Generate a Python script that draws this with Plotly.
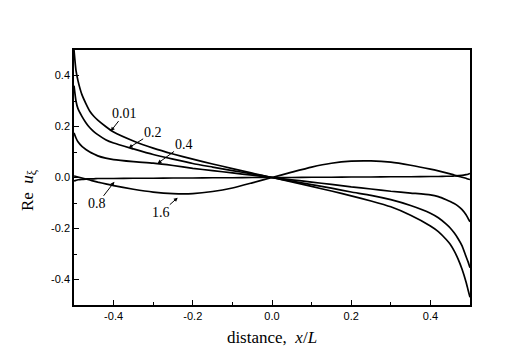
import plotly.graph_objects as go

# distance x/L (shared by all curves)
x_pos = [-0.5, -0.495, -0.49, -0.48, -0.47, -0.46, -0.45, -0.44, -0.42, -0.4, -0.35, -0.3, -0.25, -0.2, -0.15, -0.1, -0.05, 0.0,
         0.05, 0.1, 0.15, 0.2, 0.25, 0.3, 0.35, 0.4, 0.42, 0.44, 0.45, 0.46, 0.47, 0.48, 0.49, 0.495, 0.5]

# Re u_xi for each parameter value
re_u_001 = [0.5, 0.42, 0.38, 0.325, 0.29, 0.26, 0.24, 0.225, 0.2, 0.178, 0.143, 0.115, 0.092, 0.072, 0.053, 0.035, 0.017, 0.0,
            -0.017, -0.035, -0.053, -0.072, -0.092, -0.115, -0.148, -0.19, -0.212, -0.243, -0.262, -0.288, -0.32, -0.36, -0.41, -0.44, -0.47]
re_u_02 = [0.36, 0.30, 0.27, 0.24, 0.215, 0.195, 0.18, 0.168, 0.148, 0.135, 0.112, 0.09, 0.072, 0.055, 0.041, 0.027, 0.014, 0.0,
           -0.014, -0.028, -0.042, -0.057, -0.07, -0.087, -0.11, -0.14, -0.158, -0.183, -0.198, -0.217, -0.24, -0.268, -0.31, -0.33, -0.354]
re_u_04 = [0.175, 0.155, 0.14, 0.122, 0.11, 0.1, 0.092, 0.085, 0.076, 0.07, 0.062, 0.056, 0.047, 0.036, 0.027, 0.018, 0.009, 0.0,
           -0.009, -0.018, -0.027, -0.037, -0.045, -0.054, -0.061, -0.068, -0.075, -0.087, -0.094, -0.102, -0.112, -0.126, -0.146, -0.16, -0.174]
re_u_08 = [-0.013, -0.011, -0.009, -0.007, -0.006, -0.005, -0.005, -0.004, -0.004, -0.004, -0.003, -0.003, -0.002, -0.002, -0.001, -0.001, 0.0, 0.0,
           0.0, 0.001, 0.001, 0.002, 0.002, 0.003, 0.003, 0.004, 0.004, 0.005, 0.005, 0.006, 0.007, 0.008, 0.011, 0.013, 0.016]
re_u_16 = [0.006, 0.004, 0.002, -0.002, -0.006, -0.01, -0.014, -0.018, -0.025, -0.032, -0.046, -0.057, -0.063, -0.063, -0.055, -0.041, -0.021, 0.0,
           0.021, 0.041, 0.056, 0.064, 0.065, 0.06, 0.048, 0.033, 0.026, 0.018, 0.014, 0.01, 0.005, 0.001, -0.003, -0.006, -0.008]

curve_labels = ["0.01", "0.2", "0.4", "0.8", "1.6"]
curves = [re_u_001, re_u_02, re_u_04, re_u_08, re_u_16]

# where each label's arrow points (data coords)
arrow_x = [-0.407, -0.362, -0.289, -0.398, -0.238]
arrow_y = [0.182, 0.116, 0.055, -0.017, -0.079]

tick_vals = [-0.4, -0.2, 0.0, 0.2, 0.4]
tick_text = ["-0.4", "-0.2", "0.0", "0.2", "0.4"]

fig = go.Figure()

for lab, ys in zip(curve_labels, curves):
    fig.add_trace(go.Scatter(
        x=x_pos, y=ys, mode="lines", name=lab,
        line=dict(color="black", width=1.7, shape="spline", smoothing=0.5),
        showlegend=False,
    ))

# label offsets (pixels, text centre relative to arrow tip)
offsets = [(14, -18), (24, -15), (26, -19), (-17, 22), (-17, 15)]
for lab, ax_, ay_, (dx, dy) in zip(curve_labels, arrow_x, arrow_y, offsets):
    fig.add_annotation(
        x=ax_, y=ay_, text=lab, showarrow=True,
        ax=dx, ay=dy, arrowhead=2, arrowsize=0.8, arrowwidth=1, arrowcolor="black",
        standoff=0, borderpad=0,
        font=dict(family="Liberation Serif", size=14, color="black"),
    )

# y axis title, sits a bit below the plot centre in the original
fig.add_annotation(
    xref="paper", yref="y", x=-0.114, y=-0.05, showarrow=False,
    text="Re\u00a0\u00a0<i>u</i><sub>ξ</sub>", textangle=-90,
    xanchor="center", yanchor="middle",
    font=dict(family="Liberation Serif", size=17, color="black"),
)

axis_common = dict(
    showline=True, linecolor="black", linewidth=1.5, mirror=True,
    ticks="inside", ticklen=5, tickwidth=1, tickcolor="black",
    showgrid=False, zeroline=False,
    tickmode="array", tickvals=tick_vals, ticktext=tick_text,
    tickfont=dict(family="Liberation Sans", size=11, color="black"),
    minor=dict(ticks="inside", ticklen=3, tickwidth=1, tickcolor="black", dtick=0.1, tick0=0),
    range=[-0.5, 0.5],
)

fig.update_xaxes(**axis_common,
                 title=dict(text="distance,\u00a0\u00a0<i>x</i>/<i>L</i>",
                            font=dict(family="Liberation Serif", size=17, color="black"), standoff=10))
fig.update_yaxes(**axis_common)

# page body adds an 8px offset, so the figure is shrunk by that much
fig.update_layout(
    width=510, height=353,
    margin=dict(l=66, r=48, t=42, b=56),
    plot_bgcolor="white", paper_bgcolor="white",
)

fig.write_html("out.html")
